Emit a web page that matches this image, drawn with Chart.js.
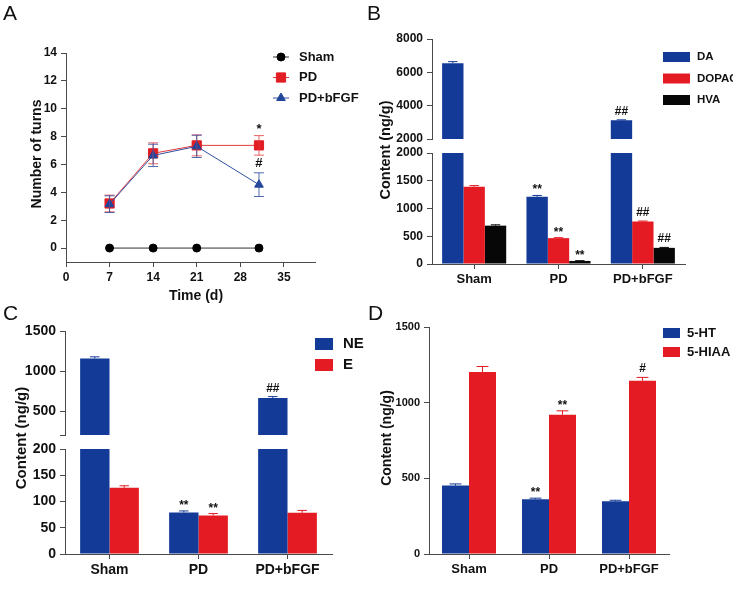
<!DOCTYPE html>
<html>
<head>
<meta charset="utf-8">
<title>Rotation test and monoamine content</title>
<script src="https://cdn.jsdelivr.net/npm/chart.js@4.4.1/dist/chart.umd.min.js"></script>
<style>
  body { margin: 0; background: #fff; }
  #fig { position: relative; width: 733px; height: 611px; overflow: hidden; font-family: Arial, "Liberation Sans", sans-serif; color: #111; }
  #fig canvas { position: absolute; }
  .letter { position: absolute; font-size: 21px; line-height: 21px; }
  .ytitle { position: absolute; font-weight: bold; white-space: nowrap; line-height: 1; transform: translate(-50%, -50%) rotate(-90deg); }
  .xtitle { position: absolute; font-weight: bold; white-space: nowrap; line-height: 1; transform: translate(-50%, -50%); }
</style>
</head>
<body>
<div id="fig">
  <canvas id="cA" width="365" height="305" style="left:0;top:0"></canvas>
  <canvas id="cBtop" width="368" height="300" style="left:365px;top:0"></canvas>
  <canvas id="cBbot" width="368" height="300" style="left:365px;top:0"></canvas>
  <canvas id="cCtop" width="365" height="311" style="left:0;top:300px"></canvas>
  <canvas id="cCbot" width="365" height="311" style="left:0;top:300px"></canvas>
  <canvas id="cD" width="368" height="311" style="left:365px;top:300px"></canvas>

  <div class="letter" style="left:3px;top:2px">A</div>
  <div class="letter" style="left:367px;top:2px">B</div>
  <div class="letter" style="left:3px;top:302px">C</div>
  <div class="letter" style="left:368px;top:302px">D</div>

  <div class="ytitle" style="left:36px;top:154px;font-size:14px">Number of turns</div>
  <div class="xtitle" style="left:196px;top:295px;font-size:14px">Time (d)</div>
  <div class="ytitle" style="left:385px;top:150px;font-size:14.5px">Content (ng/g)</div>
  <div class="ytitle" style="left:20px;top:438px;font-size:15px">Content (ng/g)</div>
  <div class="ytitle" style="left:386px;top:438px;font-size:14px">Content (ng/g)</div>
</div>

<script>
const FONT = 'Arial, "Liberation Sans", sans-serif';
const AXIS = '#4a4a4a';
const BLUE = '#133a97', RED = '#e41b22', BLACK = '#070707';

// A: rotation test
const daysA = [7, 14, 21, 31];
const shamA = [0, 0, 0, 0];
const pdA = [3.2, 6.8, 7.37, 7.37];
const pdErrA = [0.6, 0.75, 0.75, 0.7];
const fgfA = [3.15, 6.65, 7.3, 4.55];
const fgfErrA = [0.6, 0.8, 0.8, 0.85];
const pdSigA = ['', '', '', '*'];
const fgfSigA = ['', '', '', '#'];
const xTicksA = [0, 7, 14, 21, 28, 35];
const yTicksA = [0, 2, 4, 6, 8, 10, 12, 14];

const groups = ['Sham', 'PD', 'PD+bFGF'];

// B: DA / DOPAC / HVA
const daB = [6550, 1210, 3130];
const daErrB = [90, 25, 20];
const daSigB = ['', '**', '##'];
const dopacB = [1393, 466, 764];
const dopacErrB = [20, 8, 10];
const dopacSigB = ['', '**', '##'];
const hvaB = [691, 55, 291];
const hvaErrB = [15, 5, 8];
const hvaSigB = ['', '**', '##'];
const yTicksBtop = [2000, 4000, 6000, 8000];
const yTicksBbot = [0, 500, 1000, 1500, 2000];

// C: NE / E
const neC = [1157, 79, 663];
const neErrC = [20, 3, 17];
const neSigC = ['', '**', '##'];
const eC = [126, 73.5, 78.5];
const eErrC = [4, 3.5, 4.5];
const eSigC = ['', '**', ''];
const yTicksCtop = [200, 500, 1000, 1500];
const yTicksCbot = [0, 50, 100, 150, 200];

// D: 5-HT / 5-HIAA
const htD = [452, 362, 348];
const htErrD = [11, 7, 7];
const htSigD = ['', '**', ''];
const hiaaD = [1202, 920, 1145];
const hiaaErrD = [37, 26, 22];
const hiaaSigD = ['', '**', '#'];
const yTicksD = [0, 500, 1000, 1500];

// error bars + significance marks, only inside the visible segment of the axis
const errorBars = {
  id: 'errorBars',
  afterDatasetsDraw(chart, args, opts) {
    const ctx = chart.ctx, ys = chart.scales.y;
    chart.data.datasets.forEach((ds, i) => {
      if (!ds.errors) return;
      chart.getDatasetMeta(i).data.forEach((el, j) => {
        const raw = ds.data[j];
        const v = typeof raw === 'object' ? raw.y : raw;
        if (v <= ys.min || v > ys.max) return;
        const e = ds.errors[j];
        const yTop = ys.getPixelForValue(Math.min(v + e, ys.max));
        const yBot = opts.both ? ys.getPixelForValue(v - e) : el.y;
        const half = opts.cap != null ? opts.cap : el.width * opts.capRatio;
        ctx.save();
        ctx.strokeStyle = ds.errColor || ds.backgroundColor;
        ctx.lineWidth = 1;
        ctx.beginPath();
        ctx.moveTo(el.x, yBot); ctx.lineTo(el.x, yTop);
        ctx.moveTo(el.x - half, yTop); ctx.lineTo(el.x + half, yTop);
        if (opts.both) { ctx.moveTo(el.x - half, yBot); ctx.lineTo(el.x + half, yBot); }
        ctx.stroke();
        const s = ds.sig && ds.sig[j];
        if (s) {
          ctx.fillStyle = '#111';
          ctx.font = 'bold ' + opts.sigSize + 'px ' + FONT;
          ctx.textAlign = 'center';
          ctx.textBaseline = 'alphabetic';
          ctx.fillText(s, el.x, yTop - opts.sigGap - (s[0] === '#' ? 3 : 0));
        }
        ctx.restore();
      });
    });
  }
};

// legend drawn at fixed spot
const keyLegend = {
  id: 'keyLegend',
  afterDraw(chart, args, o) {
    if (!o.show) return;
    const ctx = chart.ctx;
    chart.data.datasets.forEach((ds, i) => {
      const y = o.y + i * o.dy;
      ctx.save();
      if (o.line) {
        ctx.strokeStyle = ds.borderColor; ctx.lineWidth = 1;
        ctx.beginPath(); ctx.moveTo(o.x, y); ctx.lineTo(o.x + o.w, y); ctx.stroke();
        ctx.fillStyle = ds.backgroundColor; ctx.strokeStyle = ds.backgroundColor;
        Chart.helpers.drawPoint(ctx, { pointStyle: ds.pointStyle, radius: ds.pointRadius, rotation: 0, borderWidth: 1 }, o.x + o.w / 2, y);
      } else {
        ctx.fillStyle = ds.backgroundColor;
        ctx.fillRect(o.x, y - o.h / 2, o.w, o.h);
      }
      ctx.fillStyle = '#111';
      ctx.font = 'bold ' + o.size + 'px ' + FONT;
      ctx.textBaseline = 'middle'; ctx.textAlign = 'left';
      ctx.fillText(ds.label, o.tx, y);
      ctx.restore();
    });
  }
};

function yAxis(ticks, min, max, size, w, blank) {
  return {
    min: min, max: max,
    afterBuildTicks: s => { s.ticks = ticks.map(v => ({ value: v })); },
    afterFit: s => { s.width = w; },
    ticks: { font: { size: size, weight: 'bold', family: FONT }, color: '#111', padding: 4,
             callback: v => (blank != null && v === blank) ? '' : String(v) },
    grid: { display: true, drawOnChartArea: false, drawTicks: true, tickLength: 5, color: AXIS },
    border: { display: true, color: AXIS, width: 1 }
  };
}

function xCat(size, h, show) {
  const ax = {
    display: show,
    ticks: { font: { size: size, weight: 'bold', family: FONT }, color: '#111', padding: 3, maxRotation: 0, autoSkip: false },
    grid: { display: true, offset: false, drawOnChartArea: false, drawTicks: true, tickLength: 5, color: AXIS },
    border: { display: true, color: AXIS, width: 1 }
  };
  if (show) ax.afterFit = s => { s.height = h; };
  return ax;
}

function base(W, H, box) {
  return {
    responsive: false, animation: false,
    layout: { autoPadding: false, padding: { left: box.l - box.yw, right: W - box.r, top: box.t, bottom: H - box.b - box.xh } },
    plugins: { legend: { display: false }, tooltip: { enabled: false } }
  };
}

function barSet(label, data, errs, sig, color) {
  return { label: label, data: data, errors: errs, sig: sig, backgroundColor: color, borderWidth: 0, clip: 0 };
}

// ---------- A ----------
const pts = arr => daysA.map((d, i) => ({ x: d, y: arr[i] }));
const optA = base(365, 305, { l: 66, r: 315, t: 53, b: 262, yw: 40, xh: 25 });
optA.scales = {
  x: { type: 'linear', min: 0, max: 40,
       afterBuildTicks: s => { s.ticks = xTicksA.map(v => ({ value: v })); },
       afterFit: s => { s.height = 25; },
       ticks: { font: { size: 12, weight: 'bold', family: FONT }, color: '#111', padding: 3, callback: v => String(v) },
       grid: { display: true, drawOnChartArea: false, drawTicks: true, tickLength: 5, color: AXIS },
       border: { display: true, color: AXIS, width: 1 } },
  y: yAxis(yTicksA, -1, 14, 12, 40)
};
optA.plugins.errorBars = { both: true, cap: 5, sigSize: 13, sigGap: 3 };
optA.plugins.keyLegend = { show: true, line: true, x: 273, y: 57, dy: 20.5, w: 16, tx: 299, size: 13 };
new Chart(document.getElementById('cA'), {
  type: 'scatter',
  data: { datasets: [
    { label: 'Sham', data: pts(shamA), showLine: true, order: 2, borderColor: '#333', backgroundColor: '#000',
      pointBackgroundColor: '#000', pointBorderColor: '#000', pointStyle: 'circle', pointRadius: 4, borderWidth: 1 },
    { label: 'PD', data: pts(pdA), errors: pdErrA, sig: pdSigA, errColor: 'rgba(226,60,62,0.8)', showLine: true, order: 1,
      borderColor: '#e4393c', backgroundColor: '#e21d24', pointBackgroundColor: '#e21d24', pointBorderColor: '#e21d24',
      pointStyle: 'rect', pointRadius: 6.5, borderWidth: 1 },
    { label: 'PD+bFGF', data: pts(fgfA), errors: fgfErrA, sig: fgfSigA, errColor: 'rgba(50,80,160,0.85)', showLine: true, order: 0,
      borderColor: '#3250a2', backgroundColor: '#22459c', pointBackgroundColor: '#22459c', pointBorderColor: '#22459c',
      pointStyle: 'triangle', pointRadius: 5, borderWidth: 1 }
  ] },
  options: optA,
  plugins: [errorBars, keyLegend]
});

// ---------- B (broken axis: two stacked charts) ----------
function setsB() {
  return [barSet('DA', daB, daErrB, daSigB, BLUE), barSet('DOPAC', dopacB, dopacErrB, dopacSigB, RED), barSet('HVA', hvaB, hvaErrB, hvaSigB, BLACK)];
}
const optBtop = base(368, 300, { l: 67, r: 320, t: 39, b: 139, yw: 40, xh: 0 });
optBtop.scales = { x: xCat(13, 0, false), y: yAxis(yTicksBtop, 2000, 8000, 12, 40) };
optBtop.datasets = { bar: { categoryPercentage: 0.76, barPercentage: 1 } };
optBtop.plugins.errorBars = { capRatio: 0.22, sigSize: 12, sigGap: 2 };
optBtop.plugins.keyLegend = { show: false };
new Chart(document.getElementById('cBtop'), { type: 'bar', data: { labels: groups, datasets: setsB() }, options: optBtop, plugins: [errorBars, keyLegend] });

const optBbot = base(368, 300, { l: 67, r: 320, t: 153, b: 264, yw: 40, xh: 25 });
optBbot.scales = { x: xCat(13, 25, true), y: yAxis(yTicksBbot, 0, 2000, 12, 40) };
optBbot.datasets = { bar: { categoryPercentage: 0.76, barPercentage: 1 } };
optBbot.plugins.errorBars = { capRatio: 0.22, sigSize: 12, sigGap: 2 };
optBbot.plugins.keyLegend = { show: true, x: 298, y: 57, dy: 21.5, w: 27, h: 10, tx: 332, size: 11.5 };
new Chart(document.getElementById('cBbot'), { type: 'bar', data: { labels: groups, datasets: setsB() }, options: optBbot, plugins: [errorBars, keyLegend] });

// ---------- C (broken axis) ----------
function setsC() {
  return [barSet('NE', neC, neErrC, neSigC, BLUE), barSet('E', eC, eErrC, eSigC, RED)];
}
const optCtop = base(365, 311, { l: 65, r: 332, t: 31, b: 135, yw: 40, xh: 0 });
optCtop.scales = { x: xCat(14, 0, false), y: yAxis(yTicksCtop, 200, 1500, 14, 40, 200) };
optCtop.datasets = { bar: { categoryPercentage: 0.66, barPercentage: 1 } };
optCtop.plugins.errorBars = { capRatio: 0.16, sigSize: 12, sigGap: 2 };
optCtop.plugins.keyLegend = { show: false };
new Chart(document.getElementById('cCtop'), { type: 'bar', data: { labels: groups, datasets: setsC() }, options: optCtop, plugins: [errorBars, keyLegend] });

const optCbot = base(365, 311, { l: 65, r: 332, t: 149, b: 254, yw: 40, xh: 25 });
optCbot.scales = { x: xCat(14, 25, true), y: yAxis(yTicksCbot, 0, 200, 14, 40) };
optCbot.datasets = { bar: { categoryPercentage: 0.66, barPercentage: 1 } };
optCbot.plugins.errorBars = { capRatio: 0.16, sigSize: 12, sigGap: 2 };
optCbot.plugins.keyLegend = { show: true, x: 315, y: 44, dy: 21, w: 18, h: 12, tx: 343, size: 15 };
new Chart(document.getElementById('cCbot'), { type: 'bar', data: { labels: groups, datasets: setsC() }, options: optCbot, plugins: [errorBars, keyLegend] });

// ---------- D ----------
const optD = base(368, 311, { l: 64, r: 304, t: 27, b: 254, yw: 40, xh: 25 });
optD.scales = { x: xCat(13, 25, true), y: yAxis(yTicksD, 0, 1500, 11, 40) };
optD.datasets = { bar: { categoryPercentage: 0.675, barPercentage: 1 } };
optD.plugins.errorBars = { capRatio: 0.22, sigSize: 12, sigGap: 2 };
optD.plugins.keyLegend = { show: true, x: 298, y: 33, dy: 19, w: 17, h: 10, tx: 322, size: 13 };
new Chart(document.getElementById('cD'), {
  type: 'bar',
  data: { labels: groups, datasets: [barSet('5-HT', htD, htErrD, htSigD, BLUE), barSet('5-HIAA', hiaaD, hiaaErrD, hiaaSigD, RED)] },
  options: optD,
  plugins: [errorBars, keyLegend]
});
</script>
</body>
</html>
